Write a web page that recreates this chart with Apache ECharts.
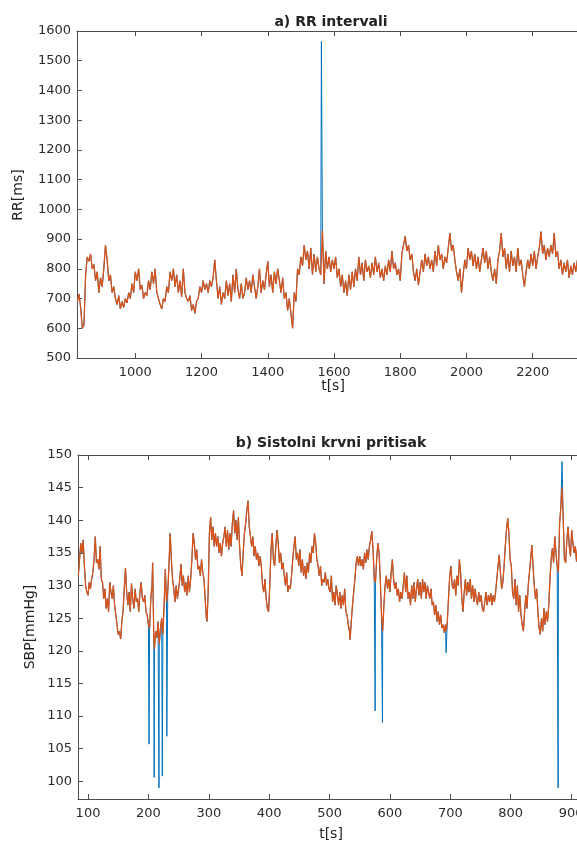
<!DOCTYPE html>
<html>
<head>
<meta charset="utf-8">
<script src="https://cdn.jsdelivr.net/npm/echarts@6/dist/echarts.min.js"></script>
<style>
html,body{margin:0;padding:0;background:#fff;}
#chart{width:577px;height:843px;}
</style>
</head>
<body>
<div id="chart"></div>
<script>
// ---------- DATA ----------
const rrXTicks = [1000, 1200, 1400, 1600, 1800, 2000, 2200];
const rrYTicks = [500, 600, 700, 800, 900, 1000, 1100, 1200, 1300, 1400, 1500, 1600];
const sbpXTicks = [100, 200, 300, 400, 500, 600, 700, 800, 900];
const sbpYTicks = [100, 105, 110, 115, 120, 125, 130, 135, 140, 145, 150];

// filtered RR intervals [t (s), RR (ms)]
const rrFiltered = [
[825,690],[830,715],[835,670],[840,600],[845,610],[850,780],[855,840],[860,825],[865,850],[870,800],
[875,815],[880,760],[885,790],[890,720],[895,770],[900,740],[905,800],[910,880],[915,830],[920,760],
[925,780],[930,720],[935,740],[940,700],[945,680],[950,710],[955,665],[960,690],[965,670],[970,700],
[975,685],[980,720],[985,700],[990,750],[995,720],[1000,790],[1005,760],[1010,800],[1015,730],[1020,745],
[1025,700],[1030,720],[1035,710],[1040,760],[1045,730],[1050,790],[1055,750],[1060,800],[1065,720],[1070,700],
[1075,680],[1080,665],[1085,700],[1090,690],[1095,740],[1100,720],[1105,790],[1110,760],[1115,800],[1120,740],
[1125,780],[1130,720],[1135,760],[1140,705],[1145,800],[1150,720],[1155,700],[1160,690],[1165,710],[1170,660],
[1175,680],[1180,650],[1185,690],[1190,700],[1195,740],[1200,720],[1205,760],[1210,730],[1215,750],[1220,720],
[1225,760],[1230,740],[1235,770],[1240,830],[1245,760],[1250,700],[1255,740],[1260,680],[1265,720],[1270,700],
[1275,760],[1280,710],[1285,750],[1290,690],[1295,780],[1300,720],[1305,800],[1310,730],[1315,700],[1320,750],
[1325,700],[1330,720],[1335,770],[1340,730],[1345,760],[1350,720],[1355,780],[1360,740],[1365,700],[1370,740],
[1375,800],[1380,720],[1385,760],[1390,730],[1395,780],[1400,825],[1405,740],[1410,780],[1415,720],[1420,790],
[1425,750],[1430,800],[1435,760],[1440,720],[1445,770],[1450,700],[1455,720],[1460,660],[1465,700],[1470,650],
[1475,600],[1480,720],[1485,690],[1490,800],[1495,780],[1500,840],[1505,810],[1510,880],[1515,830],[1520,860],
[1525,800],[1530,870],[1535,780],[1540,850],[1545,790],[1550,840],[1555,800],[1560,780],[1565,930],[1570,750],
[1575,860],[1580,800],[1585,840],[1590,790],[1595,830],[1600,800],[1605,840],[1610,770],[1615,800],[1620,740],
[1625,780],[1630,720],[1635,760],[1640,710],[1645,780],[1650,730],[1655,790],[1660,740],[1665,800],[1670,760],
[1675,840],[1680,780],[1685,820],[1690,760],[1695,830],[1700,790],[1705,810],[1710,770],[1715,820],[1720,780],
[1725,840],[1730,790],[1735,820],[1740,770],[1745,800],[1750,760],[1755,810],[1760,780],[1765,830],[1770,790],
[1775,860],[1780,800],[1785,820],[1790,780],[1795,800],[1800,760],[1805,850],[1810,880],[1815,910],[1820,860],
[1825,880],[1830,830],[1835,850],[1840,790],[1845,760],[1850,800],[1855,745],[1860,790],[1865,830],[1870,790],
[1875,850],[1880,810],[1885,840],[1890,800],[1895,830],[1900,790],[1905,860],[1910,810],[1915,880],[1920,830],
[1925,850],[1930,800],[1935,840],[1940,820],[1945,870],[1950,920],[1955,860],[1960,880],[1965,830],[1970,790],
[1975,760],[1980,800],[1985,720],[1990,780],[1995,830],[2000,800],[2005,870],[2010,830],[2015,860],[2020,810],
[2025,850],[2030,800],[2035,840],[2040,790],[2045,830],[2050,870],[2055,820],[2060,860],[2065,800],[2070,840],
[2075,790],[2080,760],[2085,800],[2090,750],[2095,830],[2100,860],[2105,920],[2110,840],[2115,870],[2120,800],
[2125,850],[2130,790],[2135,860],[2140,810],[2145,840],[2150,790],[2155,870],[2160,810],[2165,830],[2170,780],
[2175,740],[2180,790],[2185,830],[2190,800],[2195,850],[2200,810],[2205,860],[2210,800],[2215,840],[2220,870],
[2225,925],[2230,850],[2235,880],[2240,830],[2245,870],[2250,840],[2255,880],[2260,850],[2265,920],[2270,840],
[2275,860],[2280,800],[2285,830],[2290,780],[2295,820],[2300,790],[2305,830],[2310,770],[2315,810],[2320,780],
[2325,820],[2330,790],[2335,830],[2340,800],[2345,820],[2350,790],[2355,810],[2360,800]
];
// raw RR points that differ from the filtered trace (artefacts)
const rrArtefacts = [[1562,1565]];

// filtered systolic blood pressure [t (s), SBP (mmHg)]
const sbpFiltered = [
[84,131.5],[86,134],[88,136.5],[90,135],[92,137],[94,133],[96,130],[98,129],[100,128.5],[102,130.5],
[104,129.5],[106,131],[108,132],[110,134],[112,137.5],[114,133.5],[116,134],[118,132.5],[120,136],[122,131],
[124,130.5],[126,128],[128,129.5],[130,126.5],[132,128],[134,126],[136,130.5],[138,129],[140,128],[142,130],
[144,127],[146,125.5],[148,124],[150,122.5],[152,123],[154,121.8],[156,124.5],[158,126],[160,129.5],[162,132.7],
[164,129],[166,127],[168,129],[170,126],[172,130.3],[174,128],[176,126.5],[178,129.5],[180,127.5],[182,128],
[184,126],[186,129],[188,130.5],[190,128],[192,127.5],[194,128.5],[196,126],[198,125.5],[200,124],[202,123.5],
[204,128],[206,130],[207,133.5],[209,121.5],[210,120.3],[212,123],[214,122],[216,124.5],[218,121],[220,123.5],
[222,125],[224,122.5],[226,127],[228,132.5],[230,127.5],[232,129],[234,133],[236,138],[238,134],[240,131],
[242,129.5],[244,127.5],[246,130],[248,128],[250,129.5],[252,131],[254,133.3],[256,130],[258,131.5],[260,129],
[262,130.5],[264,128.5],[266,131.5],[268,129],[270,131],[272,134],[274,138],[276,136.5],[278,134],[280,135.5],
[282,132.5],[284,133],[286,131.5],[288,134],[290,132],[292,131],[294,128],[296,125],[297,124.5],[299,129],
[301,138],[303,140.5],[305,137],[307,139],[309,136],[311,138],[313,136],[315,137.5],[317,135],[319,136.5],
[321,134.5],[323,136.5],[325,137.5],[327,139],[329,136],[331,138.5],[333,135.5],[335,138],[337,136],[339,139.5],
[341,141.5],[343,138],[345,140],[347,137],[349,140.5],[351,136],[353,133],[355,131.5],[357,135],[359,138],
[361,139.5],[363,141.5],[365,143],[367,139],[369,137.5],[371,136],[373,137.5],[375,134.5],[377,136],[379,134],
[381,135],[383,133],[385,134.5],[387,133],[389,130],[391,129],[393,131],[395,128],[397,126.5],[399,126],
[401,130],[403,135.5],[405,138],[407,134],[409,133],[411,136],[413,138.5],[415,136.5],[417,133.5],[419,135],
[421,132.5],[423,133.5],[425,131.5],[427,130],[429,132],[431,129],[433,130],[435,129.5],[437,131.5],[439,134],
[441,136],[443,137.5],[445,134],[447,135],[449,133],[451,135.5],[453,132],[455,134],[457,131.5],[459,133],
[461,131],[463,133.5],[465,132],[467,135],[469,133.5],[471,136],[473,135],[475,138],[477,136.5],[479,134],
[481,133],[483,131.5],[485,133],[487,130],[489,131],[491,130.5],[493,132],[495,130],[497,131],[499,129.5],
[501,129],[503,131.5],[505,127.5],[507,129],[509,127],[511,130],[513,128.5],[515,127],[517,129],[519,126.5],
[521,128.5],[523,127],[525,129.5],[527,126],[529,125.5],[531,124],[533,123],[534,121.7],[536,124.5],[538,127],
[540,129],[542,131],[544,133.5],[546,134.5],[548,133],[550,134.5],[552,133],[554,134],[556,132.5],[558,135],
[560,133.5],[562,135.5],[564,134],[566,136],[568,137],[570,138.3],[572,135.5],[574,131],[576,130.5],[578,134],
[580,136.5],[582,135],[584,131],[586,125.5],[588,123],[590,127],[592,130],[594,131.5],[596,129.5],[598,131],
[600,129],[602,132],[604,134],[606,131],[608,129.5],[610,130.5],[612,128.5],[614,129.5],[616,127.5],[618,129],
[620,128],[622,130],[624,132],[626,129],[628,131.5],[630,128],[632,129],[634,127],[636,130],[638,128],
[640,130.5],[642,127.5],[644,129.5],[646,131],[648,128.5],[650,130.5],[652,128],[654,131],[656,129],[658,130.5],
[660,128],[662,130],[664,129],[666,128],[668,129.5],[670,127],[672,127.5],[674,125.5],[676,127],[678,124.5],
[680,126],[682,124],[684,125.5],[686,123.5],[688,124],[690,122.8],[692,124],[693,123],[695,124.5],[697,128],
[699,131.5],[701,133],[703,130],[705,129.5],[707,131],[709,128.5],[711,131.5],[713,130],[715,134],[717,132],
[719,128],[721,126],[723,129],[725,131],[727,128.5],[729,130.5],[731,129],[733,131],[735,128],[737,130],
[739,127.5],[741,129.5],[743,128],[745,127],[747,129],[749,127.5],[751,128.5],[753,126.5],[755,126],[757,127.5],
[759,129],[761,127],[763,128.5],[765,127.5],[767,128.8],[769,127],[771,128.5],[773,127.5],[775,129],[777,131],
[779,133],[781,134.7],[783,132],[785,129.5],[787,130.5],[789,133],[791,136],[793,138.5],[795,140.3],[797,138],
[799,134],[801,133],[803,129],[805,128],[807,131],[809,127],[811,130],[813,126],[815,128.5],[817,125.5],
[819,124],[821,123],[823,126],[825,128.5],[827,126.5],[829,130],[831,132],[833,134],[835,136.2],[837,133],
[839,130],[841,128],[843,129.5],[845,126],[847,123.5],[849,122.5],[851,125],[853,123],[855,126.5],[857,124],
[859,126],[861,124.5],[863,127],[865,131],[867,134],[869,135.7],[871,133.5],[873,137.5],[875,135],[877,133],
[879,132],[881,139.5],[883,142],[885,145],[887,140],[889,134],[891,133.5],[893,137],[895,139],[897,136],
[899,134.5],[901,138.5],[903,136.5],[905,135],[907,136],[909,133.7],[911,136],[913,134],[916,135],[920,133],
[925,135]
];
// raw SBP points that differ from the filtered trace (artefacts)
const sbpArtefacts = [[201,105.7],[209.5,100.6],[217.5,99],[223,100.8],[230.5,106.9],
                      [575.5,110.8],[587.6,109],[693,119.7],[878.5,99],[885,149]];

// ---------- BUILD ----------
function withArtefacts(base, art) {
  const m = new Map(base.map(p => [p[0], p[1]]));
  art.forEach(p => m.set(p[0], p[1]));
  return Array.from(m.entries()).sort((a, b) => a[0] - b[0]);
}
const rrRaw = withArtefacts(rrFiltered, rrArtefacts);
const sbpRaw = withArtefacts(sbpFiltered, sbpArtefacts);

const FONT = '"DejaVu Sans", sans-serif';
const AX = '#4d4d4d';
const TXT = '#2b2b2b';
const BLUE = '#0072BD';
const ORANGE = '#D95319';
const plain = v => String(v);

function xAxes(gi, min, max, ticks) {
  return [
    { gridIndex: gi, type: 'value', min: min, max: max, position: 'bottom',
      axisLine: { show: true, onZero: false, lineStyle: { color: AX, width: 1 } },
      axisTick: { show: true, inside: true, length: 5, customValues: ticks, lineStyle: { color: AX } },
      axisLabel: { show: true, customValues: ticks, formatter: plain, margin: 8, color: TXT, fontSize: 13, fontFamily: FONT },
      splitLine: { show: false } },
    { gridIndex: gi, type: 'value', min: min, max: max, position: 'top',
      axisLine: { show: true, onZero: false, lineStyle: { color: AX, width: 1 } },
      axisTick: { show: true, inside: true, length: 5, customValues: ticks, lineStyle: { color: AX } },
      axisLabel: { show: false },
      splitLine: { show: false } }
  ];
}
function yAxis(gi, min, max, ticks) {
  return { gridIndex: gi, type: 'value', min: min, max: max, position: 'left',
    axisLine: { show: true, onZero: false, lineStyle: { color: AX, width: 1 } },
    axisTick: { show: true, inside: true, length: 5, customValues: ticks, lineStyle: { color: AX } },
    axisLabel: { show: true, customValues: ticks, formatter: plain, margin: 6, color: TXT, fontSize: 13, fontFamily: FONT },
    splitLine: { show: false } };
}
function line(data, color, width, xi, yi) {
  return { type: 'line', data: data, xAxisIndex: xi, yAxisIndex: yi, showSymbol: false, symbol: 'none',
    lineStyle: { color: color, width: width }, itemStyle: { color: color }, sampling: 'none', clip: true, animation: false };
}
function label(text, x, y, font, rot) {
  return { type: 'text', x: x, y: y, rotation: rot || 0, silent: true,
    style: { text: text, x: 0, y: 0, font: font, fill: '#222', textAlign: 'center', textVerticalAlign: 'middle' } };
}

const chart = echarts.init(document.getElementById('chart'), null, { renderer: 'canvas' });
chart.setOption({
  animation: false,
  backgroundColor: '#ffffff',
  grid: [
    { left: 77, top: 31, width: 510, height: 327, containLabel: false, outerBoundsMode: 'none' },
    { left: 78, top: 455, width: 510, height: 344, containLabel: false, outerBoundsMode: 'none' }
  ],
  xAxis: [].concat(xAxes(0, 824, 2364, rrXTicks), xAxes(1, 83.4, 928, sbpXTicks)),
  yAxis: [yAxis(0, 500, 1600, rrYTicks), yAxis(1, 97.3, 150, sbpYTicks)],
  series: [
    line(rrRaw, BLUE, 1, 0, 0),
    line(rrFiltered, ORANGE, 1.3, 0, 0),
    line(sbpRaw, BLUE, 1, 2, 1),
    line(sbpFiltered, ORANGE, 1.3, 2, 1)
  ],
  graphic: [
    label('a) RR intervali', 331, 22, 'bold 14px ' + FONT),
    label('b) Sistolni krvni pritisak', 331, 443, 'bold 14px ' + FONT),
    label('RR[ms]', 18, 195, '14px ' + FONT, Math.PI / 2),
    label('SBP[mmHg]', 30, 627, '14px ' + FONT, Math.PI / 2),
    label('t[s]', 333, 386, '14px ' + FONT),
    label('t[s]', 331, 834, '14px ' + FONT)
  ]
});
</script>
</body>
</html>
